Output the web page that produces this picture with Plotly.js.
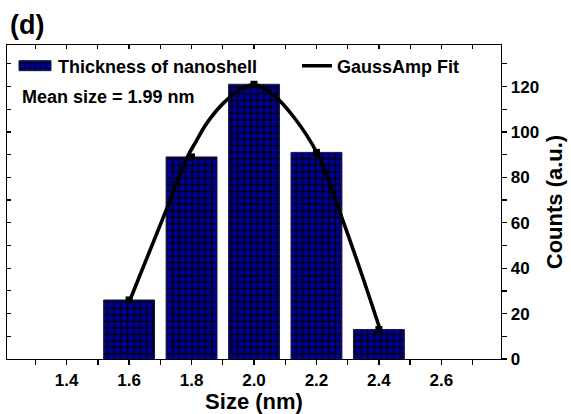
<!DOCTYPE html>
<html>
<head>
<meta charset="utf-8">
<script src="https://cdn.plot.ly/plotly-3.0.1.min.js"></script>
<style>
  html, body { margin: 0; padding: 0; background: #fff; }
  #chart { width: 571px; height: 414px; }
</style>
</head>
<body>
<div id="chart"></div>
<script>
// Shell thickness histogram (nm) and counts
const sizes = [1.6, 1.8, 2.0, 2.2, 2.4];
const counts = [26, 89, 121, 91, 13];

// GaussAmp fit curve samples
const fitX = [1.60, 1.66, 1.72, 1.785, 1.816, 1.849, 1.902, 1.955, 2.00, 2.062, 2.126, 2.203, 2.276, 2.34, 2.404];
const fitY = [25, 45.5, 66, 88.5, 96.2, 103.9, 112.7, 118.6, 120.8, 116.3, 106.8, 90.4, 64.3, 39.3, 12.9];

const xTickVals = [1.4, 1.6, 1.8, 2.0, 2.2, 2.4, 2.6];
const xTickText = ['1.4', '1.6', '1.8', '2.0', '2.2', '2.4', '2.6'];
const yTickVals = [0, 20, 40, 60, 80, 100, 120];

const FONT = 'Liberation Sans, Arial, Helvetica, sans-serif';
const XRANGE = [1.209, 2.791];
const YRANGE = [0, 138.3];
const BAR_BLUE = '#000099';

const bars = {
  type: 'bar',
  x: sizes,
  y: counts,
  width: 0.163,
  name: 'Thickness of nanoshell',
  legend: 'legend',
  marker: {
    color: BAR_BLUE,
    line: { color: '#1a1a40', width: 1 },
    pattern: { shape: '+', fillmode: 'replace', bgcolor: BAR_BLUE, fgcolor: '#000000', size: 6.5, solidity: 0.35 }
  },
  hoverinfo: 'x+y'
};

const fit = {
  type: 'scatter',
  mode: 'lines',
  x: fitX,
  y: fitY,
  name: 'GaussAmp Fit',
  legend: 'legend2',
  line: { color: '#000000', width: 3.6, shape: 'spline', smoothing: 1 }
};

const points = {
  type: 'scatter',
  mode: 'markers',
  x: sizes,
  y: counts,
  showlegend: false,
  marker: { symbol: 'square', color: '#000000', size: 7 }
};

// empty trace that carries the mirrored top/left frame axes
const frame = {
  type: 'scatter', mode: 'markers', x: [], y: [],
  xaxis: 'x2', yaxis: 'y2', showlegend: false, hoverinfo: 'skip'
};

const layout = {
  width: 571,
  height: 414,
  margin: { l: 7, r: 70, t: 45, b: 55 },
  paper_bgcolor: '#ffffff',
  plot_bgcolor: '#ffffff',
  font: { family: FONT, color: '#000000', size: 17, weight: 'bold' },
  bargap: 0,
  xaxis: {
    range: XRANGE,
    tickvals: xTickVals,
    ticktext: xTickText,
    ticks: 'outside',
    ticklen: 5,
    tickwidth: 1.3,
    tickcolor: '#000',
    minor: { dtick: 0.1, tick0: 1.3, ticks: 'outside', ticklen: 5, tickwidth: 1.3, tickcolor: '#000' },
    showline: true,
    linecolor: '#000',
    linewidth: 1.4,
    showgrid: false,
    zeroline: false,
    tickfont: { family: FONT, size: 17, weight: 'bold' },
    title: { text: 'Size (nm)', font: { family: FONT, size: 22, weight: 'bold' }, standoff: 1 }
  },
  yaxis: {
    range: YRANGE,
    side: 'right',
    tickvals: yTickVals,
    ticks: 'outside',
    ticklen: 5,
    tickwidth: 1.3,
    tickcolor: '#000',
    minor: { dtick: 10, tick0: 0, ticks: 'outside', ticklen: 5, tickwidth: 1.3, tickcolor: '#000' },
    showline: true,
    linecolor: '#000',
    linewidth: 1.4,
    showgrid: false,
    zeroline: false,
    tickfont: { family: FONT, size: 17, weight: 'bold' },
    title: { text: 'Counts (a.u.)', font: { family: FONT, size: 22, weight: 'bold' }, standoff: 8 }
  },
  xaxis2: {
    overlaying: 'x',
    side: 'top',
    anchor: 'y2',
    range: XRANGE,
    tickvals: xTickVals,
    showticklabels: false,
    ticks: 'inside',
    ticklen: 4,
    tickwidth: 1.2,
    tickcolor: '#000',
    minor: { dtick: 0.1, tick0: 1.3, ticks: 'inside', ticklen: 4, tickwidth: 1.2, tickcolor: '#000' },
    showline: true,
    linecolor: '#000',
    linewidth: 1.4,
    showgrid: false,
    zeroline: false
  },
  yaxis2: {
    overlaying: 'y',
    side: 'left',
    anchor: 'x2',
    range: YRANGE,
    tickvals: yTickVals,
    showticklabels: false,
    ticks: 'inside',
    ticklen: 4,
    tickwidth: 1.2,
    tickcolor: '#000',
    minor: { dtick: 10, tick0: 0, ticks: 'inside', ticklen: 4, tickwidth: 1.2, tickcolor: '#000' },
    showline: true,
    linecolor: '#000',
    linewidth: 1.4,
    showgrid: false,
    zeroline: false
  },
  legend: {
    x: (18 - 7) / 494, xanchor: 'left',
    y: (359.3 - 66) / 314.3, yanchor: 'middle',
    bgcolor: 'rgba(0,0,0,0)',
    borderwidth: 0,
    font: { family: FONT, size: 18, weight: 'bold' }
  },
  legend2: {
    x: (297 - 7) / 494, xanchor: 'left',
    y: (359.3 - 66) / 314.3, yanchor: 'middle',
    bgcolor: 'rgba(0,0,0,0)',
    borderwidth: 0,
    font: { family: FONT, size: 18, weight: 'bold' }
  },
  annotations: [
    {
      text: 'Mean size = 1.99 nm',
      xref: 'paper', yref: 'paper',
      x: (20 - 7) / 494, xanchor: 'left',
      y: (359.3 - 97.5) / 314.3, yanchor: 'middle',
      showarrow: false,
      font: { family: FONT, size: 18, weight: 'bold', color: '#000' }
    },
    {
      text: '(d)',
      xref: 'paper', yref: 'paper',
      x: (8 - 7) / 494, xanchor: 'left',
      y: (359.3 - 25) / 314.3, yanchor: 'middle',
      showarrow: false,
      font: { family: FONT, size: 27, weight: 'bold', color: '#000' }
    }
  ],
  showlegend: true
};

Plotly.newPlot('chart', [bars, fit, points, frame], layout, { displayModeBar: false, staticPlot: true })
  .then(function (gd) {
    // widen the bar legend swatch into a flat rectangle
    gd.querySelectorAll('.legend .traces').forEach(function (tr) {
      const txt = tr.querySelector('.legendtext');
      if (txt && txt.textContent === 'Thickness of nanoshell') {
        tr.querySelectorAll('.legendpoints path').forEach(function (p) {
          p.setAttribute('d', 'M13,5H-19V-5H13Z');
        });
      }
    });
  });
</script>
</body>
</html>
